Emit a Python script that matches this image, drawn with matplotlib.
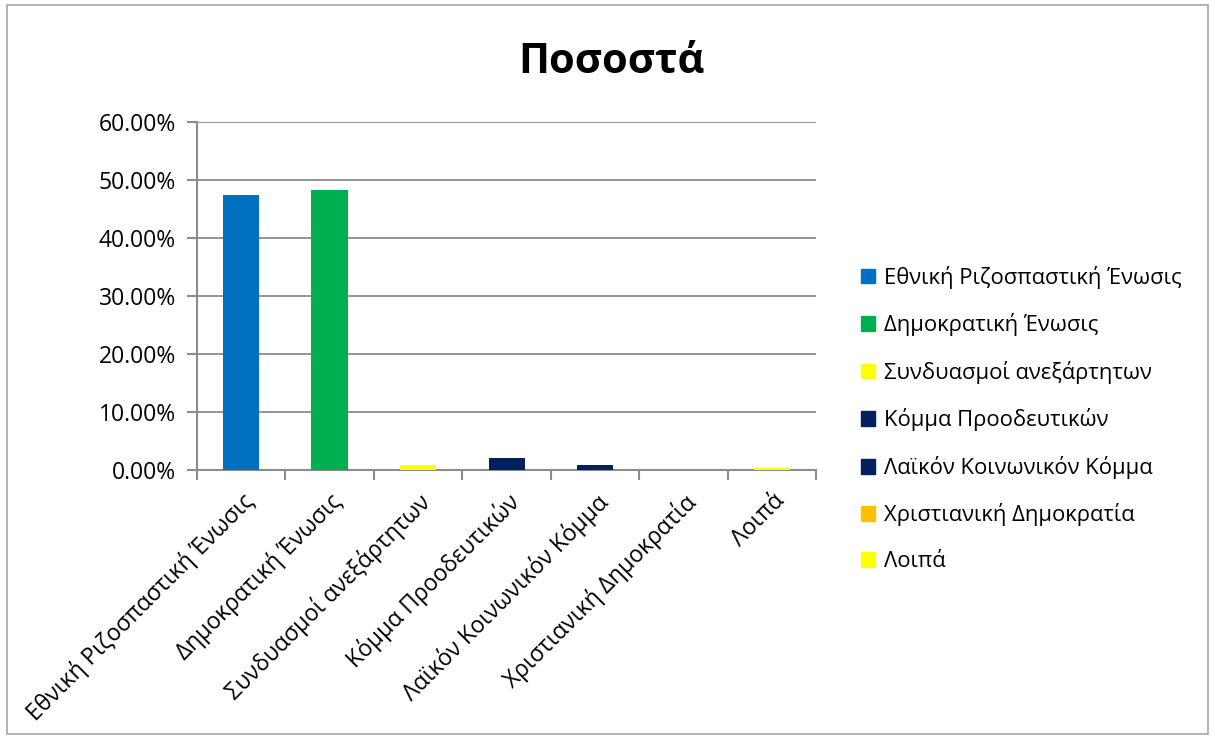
import matplotlib.pyplot as plt
from matplotlib.patches import Patch, Rectangle
from matplotlib.ticker import FuncFormatter, FixedLocator
import numpy as np

parties = ["Εθνική Ριζοσπαστική Ένωσις", "Δημοκρατική Ένωσις",
           "Συνδυασμοί ανεξάρτητων", "Κόμμα Προοδευτικών",
           "Λαϊκόν Κοινωνικόν Κόμμα", "Χριστιανική Δημοκρατία", "Λοιπά"]
shares = [0.4739, 0.4831, 0.0086, 0.0207, 0.0086, 0.0, 0.0034]
colors = ["#0070C0", "#00B050", "#FFFF00", "#002060",
          "#002060", "#FFC000", "#FFFF00"]

plt.rcParams["font.family"] = ["Open Sans", "DejaVu Sans"]

fig = plt.figure(figsize=(12.15, 7.4), dpi=100)
fig.patches.append(Rectangle((0.006, 0.008), 0.988, 0.985, transform=fig.transFigure,
                             fill=False, edgecolor="#a6a6a6", linewidth=1.2))
ax = fig.add_axes([0.162, 0.365, 0.51, 0.47])

x = np.arange(len(parties))
ax.bar(x, shares, width=0.41, color=colors, zorder=3)

ax.set_xlim(-0.5, len(parties) - 0.5)
ax.set_ylim(0, 0.6)
ax.set_yticks(np.arange(0, 0.61, 0.1))
ax.yaxis.set_major_formatter(FuncFormatter(lambda v, p: f"{v * 100:.2f}%"))
ax.grid(axis="y", color="#8c8c8c", linewidth=1.3, zorder=0)

ax.set_xticks(x)
ax.set_xticklabels(parties, rotation=45, ha="right", rotation_mode="anchor", fontsize=16.5)
ax.tick_params(axis="x", which="major", length=0, pad=14)
ax.xaxis.set_minor_locator(FixedLocator(np.arange(-0.5, len(parties), 1.0)))
ax.tick_params(axis="x", which="minor", length=7, color="#8c8c8c", width=1.5)
ax.tick_params(axis="y", length=7, color="#8c8c8c", width=1.5, labelsize=16.5, pad=8)

for s in ["top", "right"]:
    ax.spines[s].set_visible(False)
for s in ["left", "bottom"]:
    ax.spines[s].set_color("#8c8c8c")
    ax.spines[s].set_linewidth(1.5)

fig.text(0.503, 0.916, "Ποσοστά", ha="center", va="center", fontsize=30, fontweight="bold")

handles = [Patch(color=c, label=p) for p, c in zip(parties, colors)]
fig.legend(handles=handles, loc="center left", bbox_to_anchor=(0.692, 0.434),
           frameon=False, fontsize=15.8, handlelength=0.65, handleheight=0.65,
           handletextpad=0.4, labelspacing=1.12)

fig.savefig("out.png", dpi=100)
